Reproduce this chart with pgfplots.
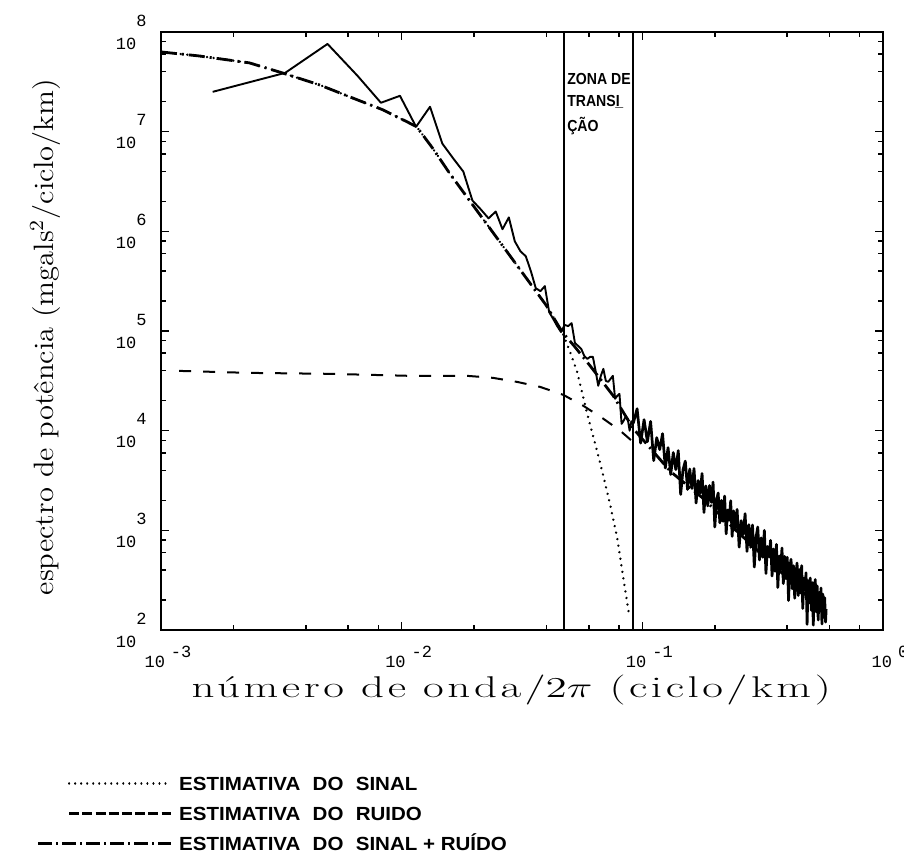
\documentclass[border=0pt]{standalone}
\usepackage{fontspec}
\usepackage{graphicx}
\usepackage{pgfplots}
\pgfplotsset{compat=1.18}
\usepackage{pgfplotstable}

\newfontfamily\tickfamily{Liberation Mono}
\newfontfamily\legfamily{Liberation Sans}
\newfontfamily\xlabfamily{Latin Modern Roman}[LetterSpace=8]

% tick labels: "10" with a raised exponent
\newcommand{\xtl}[1]{10\hspace{3pt}\raisebox{5pt}{#1}}
\newcommand{\ytl}[1]{10\raisebox{11.5pt}{#1}}
\newcommand{\legtext}[1]{\scalebox{1.08}[1]{\legfamily\bfseries #1}}

% line styles of the three estimates and their legend samples
\tikzset{
  sinal/.style={black, line width=1.3pt, line cap=round, dash pattern=on 0.01pt off 3.3pt},
  ruido/.style={black, line width=1.0pt, dash pattern=on 6pt off 6pt},
  soma/.style={black, line width=1.4pt, dash pattern=on 8pt off 2.5pt on 1pt off 2.5pt},
  legsinal/.style={black, line width=1.1pt, line cap=round, dash pattern=on 0.01pt off 3pt},
  legruido/.style={black, line width=1.1pt, dash pattern=on 5pt off 1.6pt},
  legsoma/.style={black, line width=1.1pt, dash pattern=on 7pt off 2pt on 1pt off 2pt},
}

% measured power spectrum (k in ciclo/km, P in mgals^2/ciclo/km), low wavenumbers
\pgfplotstableread{
k P
0.00164 2.51e7
0.00328 3.89e7
0.00492 7.59e7
0.00656 3.63e7
0.00820 1.95e7
0.00984 2.29e7
0.01148 1.12e7
0.01312 1.78e7
0.01476 7.59e6
0.01640 5.37e6
0.01804 3.98e6
0.01968 2.04e6
0.02132 1.66e6
0.02296 1.35e6
0.02460 1.58e6
0.02624 1.05e6
0.02788 1.38e6
0.02952 7.94e5
0.03116 6.31e5
0.03280 5.62e5
0.03444 3.98e5
0.03608 2.69e5
0.03772 2.51e5
0.03936 2.82e5
0.04100 1.55e5
0.04264 1.32e5
0.04428 1.12e5
0.04592 9.77e4
0.04756 1.15e5
0.04920 1.12e5
0.05084 1.20e5
0.05248 7.59e4
0.05412 7.08e4
0.05576 6.61e4
0.05740 5.62e4
0.05904 5.25e4
0.06068 5.50e4
0.06232 5.50e4
0.06396 3.98e4
0.06560 2.82e4
0.06724 3.55e4
0.06888 4.17e4
0.07052 3.16e4
0.07216 3.09e4
0.07380 3.31e4
0.07544 3.55e4
0.07708 2.09e4
0.07872 2.24e4
0.08036 2.34e4
0.08200 1.17e4
0.08364 1.26e4
0.08528 1.38e4
0.08692 1.32e4
0.08856 1.00e4
0.09020 1.26e4
}\spectrumlow

% measured power spectrum, high wavenumbers
\pgfplotstableread{
k P
0.09020 1.26e4
0.09184 1.20e4
0.09512 1.66e4
0.09840 7.50e3
0.10168 1.29e4
0.10496 7.76e3
0.10824 1.24e4
0.11152 5.01e3
0.11480 8.51e3
0.11808 6.46e3
0.12136 9.33e3
0.12464 4.22e3
0.12792 6.76e3
0.13120 3.63e3
0.13448 6.03e3
0.13776 4.07e3
0.14104 6.31e3
0.14432 2.29e3
0.14760 4.07e3
0.15088 4.95e3
0.15416 2.57e3
0.15744 4.12e3
0.16072 2.63e3
0.16400 4.17e3
0.16728 1.88e3
0.17056 3.16e3
0.17384 2.37e3
0.17712 3.72e3
0.18040 1.51e3
0.18368 2.79e3
0.18696 1.76e3
0.19024 2.82e3
0.19352 1.91e3
0.19680 3.05e3
0.20008 1.08e3
0.20336 2.02e3
0.20664 2.37e3
0.20992 1.19e3
0.21320 2.00e3
0.21648 1.23e3
0.21976 2.21e3
0.22304 923
0.22632 1.60e3
0.22960 1.26e3
0.23288 1.98e3
0.23616 869
0.23944 1.57e3
0.24272 1.01e3
0.24764 1.62e3
0.25256 678
0.25748 1.25e3
0.26240 912
0.26732 1.47e3
0.27224 615
0.27716 1.14e3
0.28208 675
0.28700 1.13e3
0.29192 428
0.29684 851
0.30176 1.08e3
0.30668 504
0.31160 841
0.31652 538
0.32144 1.00e3
0.32636 369
0.33128 689
0.33620 542
0.34112 794
0.34604 348
0.35096 649
0.35588 388
0.36080 724
0.36572 267
0.37064 553
0.37556 407
0.38048 664
0.38540 292
0.39032 547
0.39524 328
0.40016 536
0.40508 198
0.41000 427
0.41492 513
0.41984 259
0.42476 441
0.42968 208
0.43460 366
0.43952 470
0.44444 222
0.44936 404
0.45428 235
0.45920 442
0.46412 164
0.46904 330
0.47396 254
0.47888 375
0.48380 114
0.48872 313
0.49364 189
0.49856 333
0.50348 158
0.50840 299
0.51332 112
0.51824 257
0.52316 321
0.52808 152
0.53300 276
0.53792 126
0.54284 238
0.54776 155
0.55268 264
0.55760 115
0.56252 229
0.56744 134
0.57236 211
0.57728 120
0.58056 162
}\spectrumhigh

% signal estimate
\pgfplotstableread{
k P
0.00100 6.31e7
0.00144 5.75e7
0.00233 4.90e7
0.00319 3.89e7
0.00455 2.95e7
0.00631 2.16e7
0.00834 1.66e7
0.00917 1.48e7
0.01050 1.26e7
0.01155 1.12e7
0.01349 6.76e6
0.01585 3.80e6
0.01995 1.78e6
0.02512 8.32e5
0.03162 3.89e5
0.03981 1.82e5
0.04645 9.77e4
0.05010 6.17e4
0.05360 3.89e4
0.05900 1.48e4
0.06560 5.62e3
0.06880 3.55e3
0.07360 1.78e3
0.07870 832
0.08340 331
0.08830 138
}\signal

% noise estimate
\pgfplotstableread{
k P
0.00119 3.98e4
0.00233 3.80e4
0.00501 3.72e4
0.01080 3.55e4
0.01870 3.55e4
0.02390 3.39e4
0.03010 3.09e4
0.03760 2.75e4
0.04690 2.29e4
0.05680 1.78e4
0.06880 1.32e4
0.08090 1.00e4
0.09530 7.08e3
}\noise

% signal + noise estimate
\pgfplotstableread{
k P
0.00100 6.31e7
0.00144 5.75e7
0.00233 4.90e7
0.00319 3.89e7
0.00455 2.95e7
0.00631 2.16e7
0.00834 1.66e7
0.00917 1.48e7
0.01050 1.26e7
0.01155 1.12e7
0.01349 6.76e6
0.01585 3.80e6
0.01995 1.78e6
0.02512 8.32e5
0.03162 3.89e5
0.03981 1.82e5
0.04645 9.77e4
0.05250 6.92e4
0.06070 4.47e4
0.07570 2.24e4
0.09170 1.05e4
0.13100 3.89e3
0.17900 2.09e3
0.23300 1.12e3
0.31000 589
0.41400 309
0.56200 158
0.58000 148
}\total

\begin{document}
\begin{tikzpicture}
\begin{axis}[
  at={(0,0)}, anchor=south west,
  scale only axis, width=361pt, height=299pt,
  xmode=log, ymode=log,
  xmin=1e-3, xmax=1, ymin=1e2, ymax=1e8,
  axis line style={line width=1pt},
  tick align=inside,
  major tick length=4pt, minor tick length=2.5pt,
  every tick/.style={black, line width=0.8pt},
  xtick={1e-3,1e-2,1e-1,1},
  xticklabels={\xtl{-3},\xtl{-2},\xtl{-1},\xtl{0}},
  ytick={1e2,1e3,1e4,1e5,1e6,1e7,1e8},
  yticklabels={\ytl{2},\ytl{3},\ytl{4},\ytl{5},\ytl{6},\ytl{7},\ytl{8}},
  minor xtick={2e-3,4e-3,6e-3,8e-3,2e-2,4e-2,6e-2,8e-2,2e-1,4e-1,6e-1,8e-1},
  minor ytick={2e2,4e2,6e2,8e2,2e3,4e3,6e3,8e3,2e4,4e4,6e4,8e4,2e5,4e5,6e5,8e5,
               2e6,4e6,6e6,8e6,2e7,4e7,6e7,8e7},
  xticklabel style={font=\tickfamily\fontsize{8.5}{10}\selectfont, xshift=3.5pt, yshift=-4.5pt},
  yticklabel style={font=\tickfamily\fontsize{8.5}{10}\selectfont, xshift=-3.7pt},
  xlabel={\scalebox{1.5}[1]{\xlabfamily\fontsize{15}{18}\selectfont número de onda/$2\pi$ (ciclo/km)}},
  xlabel style={at={(axis description cs:0.485,-0.10)}, anchor=center},
  ylabel={\scalebox{1.09}[1]{\fontsize{14}{16}\selectfont espectro de potência (mgals$^2$/ciclo/km)}},
  ylabel style={at={(axis description cs:-0.16,0.49)}, anchor=center},
  legend cell align=left,
  legend style={at={(axis description cs:-0.1717,-0.2425)}, anchor=north west,
    draw=none, fill=none, inner sep=0pt, outer sep=0pt,
    column sep=2.5pt, row sep=6.5pt,
    nodes={inner sep=1pt, text height=6.5pt, text depth=0pt,
           font=\legfamily\fontsize{9.5}{11}\selectfont}},
]
% transition zone limits
\addplot[black, line width=1.1pt, forget plot] coordinates {(0.0473,1e2) (0.0473,1e8)};
\addplot[black, line width=1.1pt, forget plot] coordinates {(0.0917,1e2) (0.0917,1e8)};

% measured spectrum
\addplot[black, line width=0.95pt, line join=round, forget plot] table[x=k, y=P] {\spectrumlow};
\addplot[black, line width=1.35pt, line join=round, forget plot] table[x=k, y=P] {\spectrumhigh};

% estimates
\addplot[sinal, legend image code/.code={\path[draw=none] (-15.5pt,0pt) -- (51pt,0pt); \draw[legsinal] (0pt,0pt) -- (51pt,0pt);}]
  table[x=k, y=P] {\signal};
\addlegendentry{\legtext{ESTIMATIVA\hspace{0.6em}DO\hspace{0.6em}SINAL}}

\addplot[ruido, legend image code/.code={\path[draw=none] (-15.5pt,0pt) -- (51pt,0pt); \draw[legruido] (0pt,0pt) -- (51pt,0pt);}]
  table[x=k, y=P] {\noise};
\addlegendentry{\legtext{ESTIMATIVA\hspace{0.6em}DO\hspace{0.6em}RUIDO}}

\addplot[soma, legend image code/.code={\draw[legsoma] (-15.5pt,0pt) -- (51pt,0pt);}]
  table[x=k, y=P] {\total};
\addlegendentry{\legtext{ESTIMATIVA\hspace{0.6em}DO\hspace{0.6em}SINAL + RUÍDO}}

\node[anchor=north west, align=left, inner sep=0pt,
      font=\legfamily\bfseries\fontsize{8}{11}\selectfont]
  at (axis cs:0.0486,3.9e7) {\scalebox{0.88}[1]{ZONA DE}\\\scalebox{0.88}[1]{TRANSI\kern-2.5pt\_}\\[1.5pt]\scalebox{0.88}[1]{ÇÃO}};
\end{axis}
\pgfresetboundingbox
\path[use as bounding box] (-80.5pt,-111.5pt) rectangle (371.5pt,315pt);
\end{tikzpicture}
\end{document}
